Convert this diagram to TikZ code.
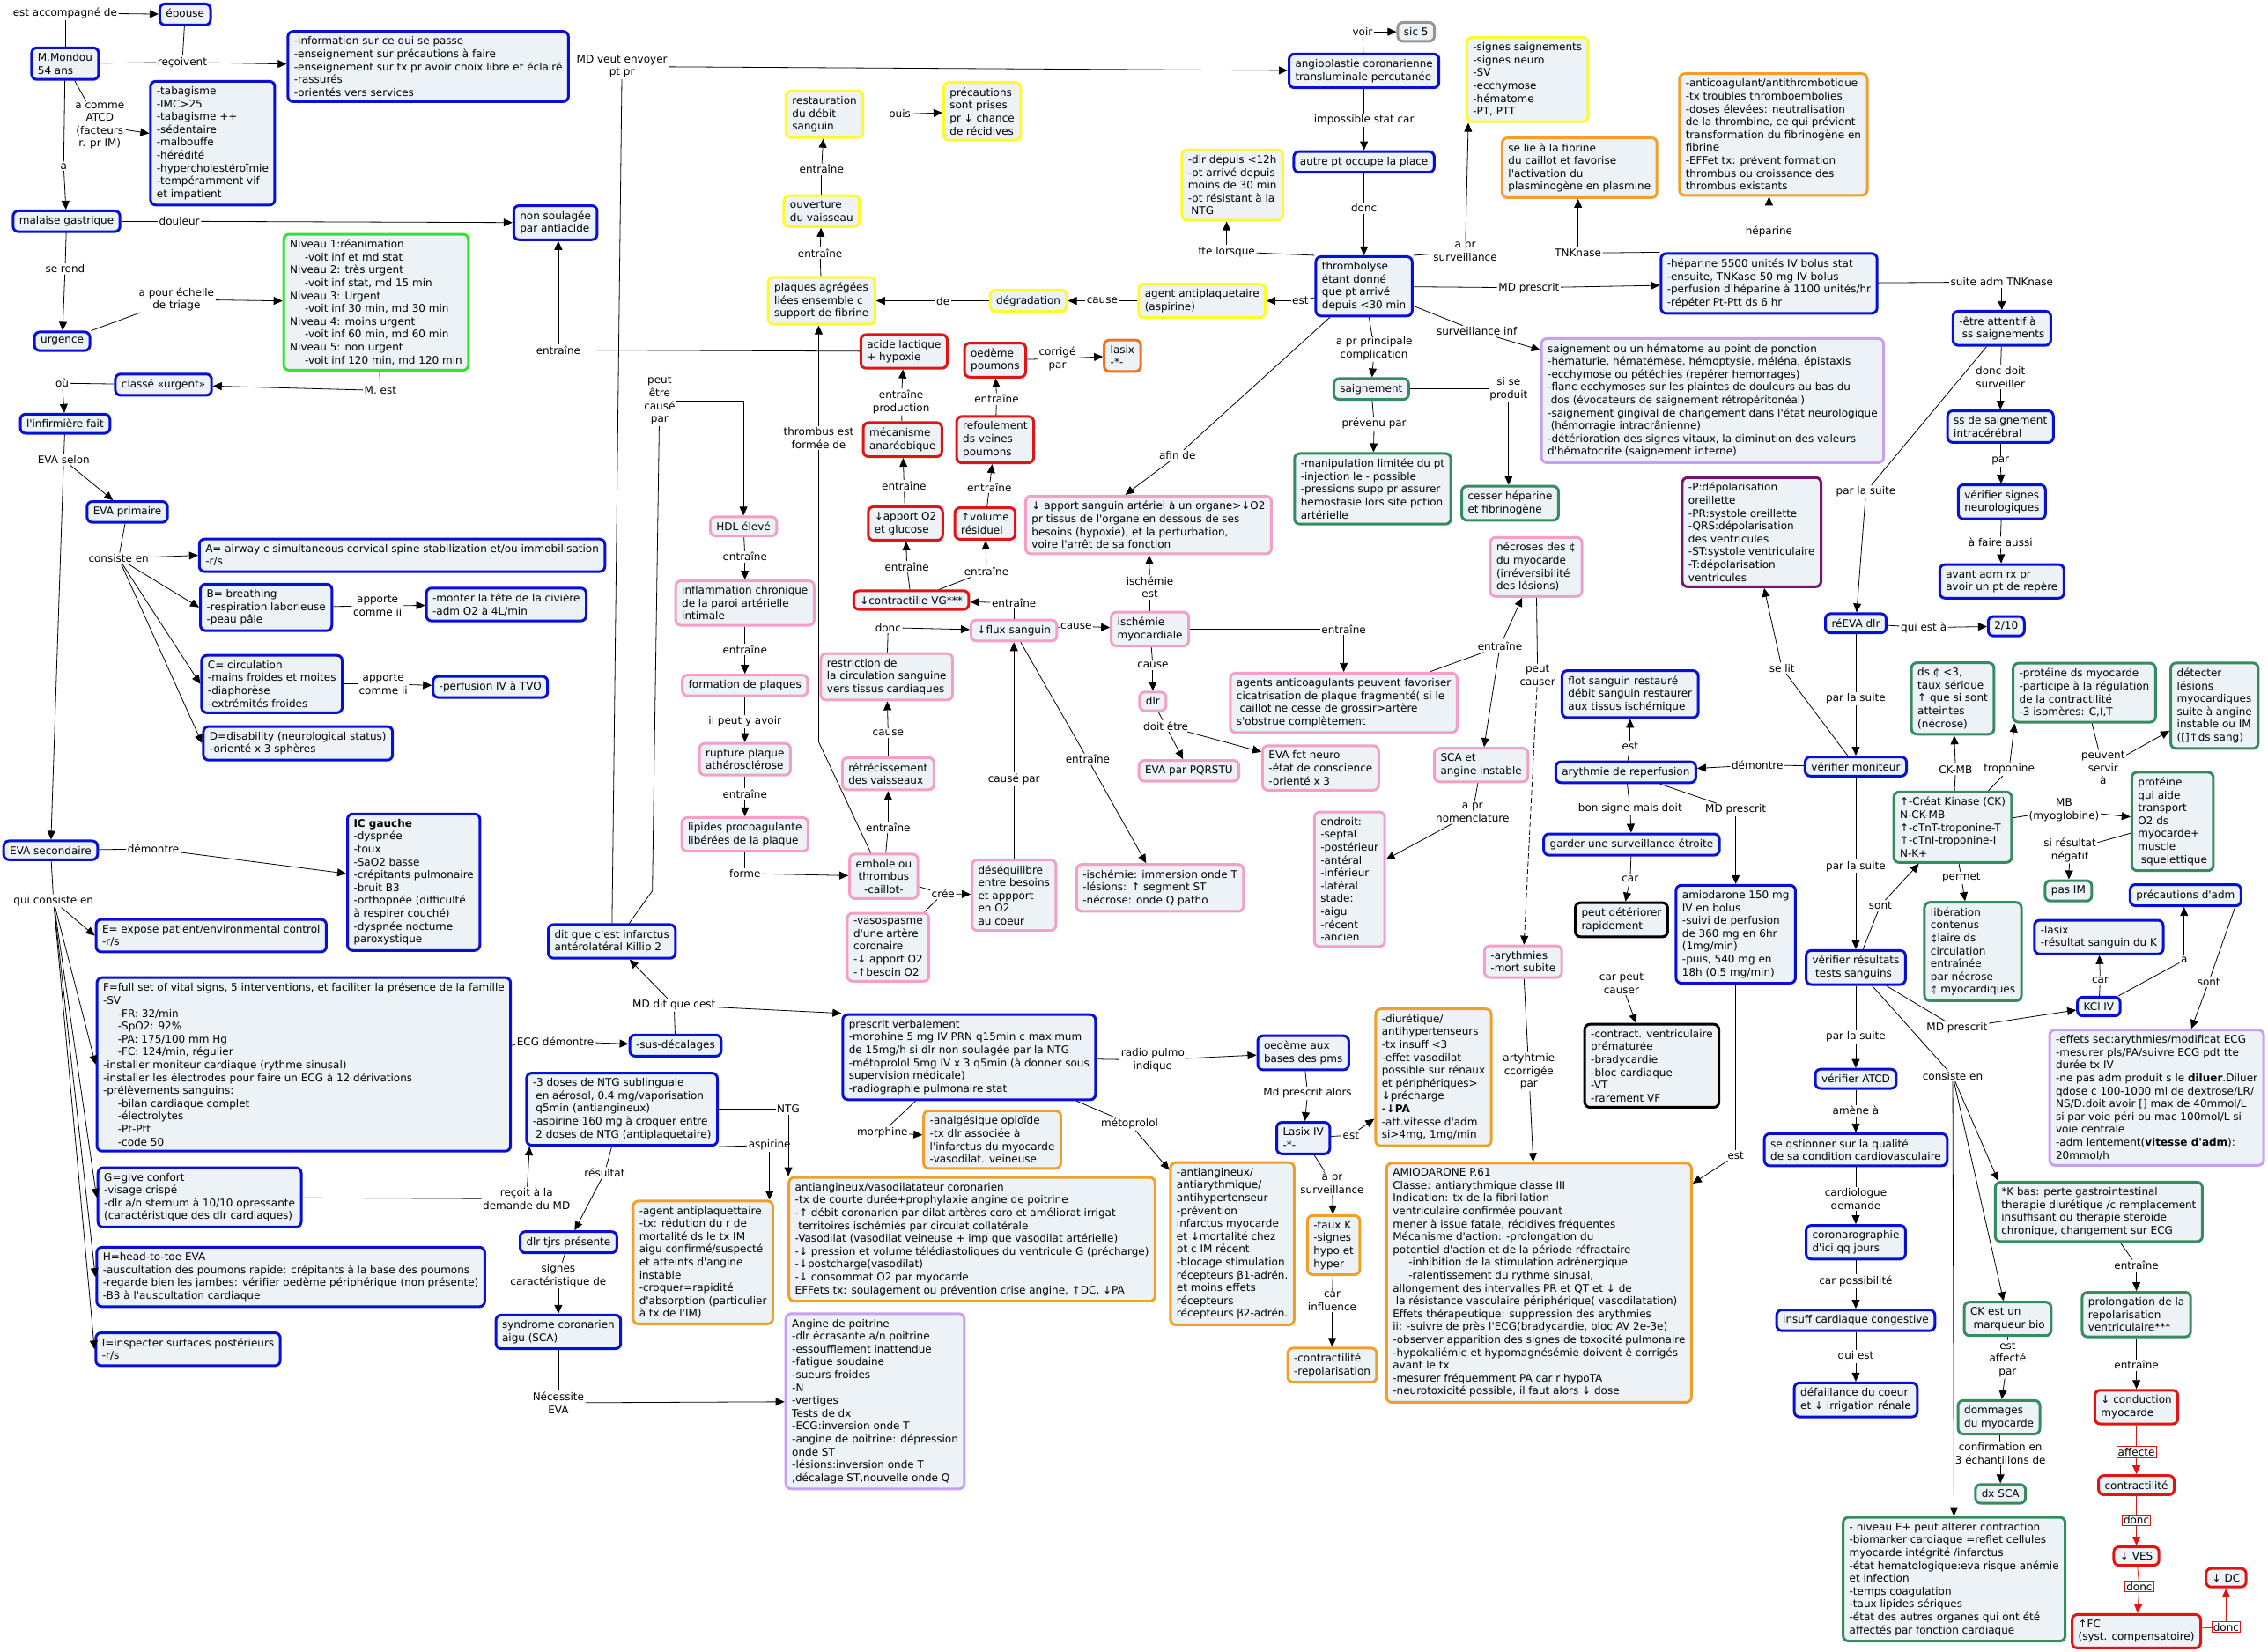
\documentclass[tikz,border=0pt]{standalone}
\usepackage{fontspec}
\setmainfont{DejaVu Sans}[Ligatures=TeXOff]
\usetikzlibrary{arrows.meta,calc}
\definecolor{boxfill}{RGB}{236,242,245}
\definecolor{cblue}{RGB}{8,16,214}
\definecolor{cyellow}{RGB}{255,250,40}
\definecolor{cgreen}{RGB}{50,228,50}
\definecolor{cred}{RGB}{225,20,20}
\definecolor{cpink}{RGB}{242,160,200}
\definecolor{corange}{RGB}{240,160,40}
\definecolor{cdorange}{RGB}{240,115,30}
\definecolor{clpurple}{RGB}{200,160,240}
\definecolor{cdpurple}{RGB}{115,20,110}
\definecolor{cteal}{RGB}{55,140,95}
\definecolor{cgrey}{RGB}{150,150,150}
\newcommand\mapfont{\fontsize{12}{14.6}\selectfont}
\newcommand\mind{\hspace*{1.4em}}
\newcommand\cvia[3]{\draw[ln] (#1) -- (#2); \draw[arr] (#2) -- (#3);}
\begin{document}
\begin{tikzpicture}[x=1.642pt,y=-1.642pt,
 box/.style={rounded corners=6pt,line width=3pt,fill=boxfill,align=left,inner xsep=7pt,inner ysep=6pt,font=\mapfont},
 bl/.style={box,draw=cblue}, yl/.style={box,draw=cyellow}, gn/.style={box,draw=cgreen},
 rd/.style={box,draw=cred}, pk/.style={box,draw=cpink}, og/.style={box,draw=corange},
 dog/.style={box,draw=cdorange}, lp/.style={box,draw=clpurple}, dp/.style={box,draw=cdpurple},
 tl/.style={box,draw=cteal}, gy/.style={box,draw=cgrey}, bk/.style={box,draw=black},
 lbl/.style={fill=white,inner sep=1.5pt,align=center,font=\mapfont},
 rlbl/.style={lbl,draw=cred,line width=0.7pt},
 ln/.style={line width=0.8pt},
 arr/.style={ln,-{Triangle[length=10pt,width=9pt]}},
 rln/.style={ln,draw=cred},
 rarr/.style={arr,draw=cred,fill=cred}]
\fill[white] (0,0) rectangle (1568,1142);
\useasboundingbox (0,0) rectangle (1568,1142);

% ---------------- left column
\node[bl] (mondou) at (45,44) {M.Mondou\\54 ans};
\node[lbl] (Lacc) at (45,9) {est accompagné de};
\node[bl] (epouse) at (128,10) {épouse};
\node[lbl] (Lrec) at (126,43) {reçoivent};
\node[bl] (info) at (296,46) {-information sur ce qui se passe\\-enseignement sur précautions à faire\\-enseignement sur tx pr avoir choix libre et éclairé\\-rassurés\\-orientés vers services};
\node[lbl] (Latcd) at (69,87) {a comme\\ATCD\\(facteurs\\r. pr IM)};
\node[bl] (atcd) at (147,99) {-tabagisme\\-IMC>25\\-tabagisme ++\\-sédentaire\\-malbouffe\\-hérédité\\-hypercholestéroïmie\\-tempéramment vif\\et impatient};
\node[lbl] (La) at (44,115) {a};
\node[bl] (malaise) at (46,153) {malaise gastrique};
\node[lbl] (Ldoul) at (124,153) {douleur};
\node[bl] (nonsoul) at (384,154) {non soulagée\\par antiacide};
\node[lbl] (Lserend) at (45,186) {se rend};
\node[bl] (urgence) at (43,236) {urgence};
\node[lbl] (Ltriage) at (122,207) {a pour échelle\\de triage};
\node[gn] (triage) at (260,209) {Niveau 1:réanimation\\\mind-voit inf et md stat\\Niveau 2: très urgent\\\mind-voit inf stat, md 15 min\\Niveau 3: Urgent\\\mind-voit inf 30 min, md 30 min\\Niveau 4: moins urgent\\\mind-voit inf 60 min, md 60 min\\Niveau 5: non urgent\\\mind-voit inf 120 min, md 120 min};
\node[lbl] (LMest) at (263,270) {M. est};
\node[bl] (classe) at (113,266) {classé «urgent»};
\node[lbl] (Lou) at (43,265) {où};
\node[bl] (infirm) at (45,293) {l'infirmière fait};
\node[lbl] (Levasel) at (44,318) {EVA selon};
\node[bl] (evap) at (88,354) {EVA primaire};
\node[lbl] (Lcons) at (82,386) {consiste en};
\node[bl] (Abox) at (278,384) {A= airway c simultaneous cervical spine stabilization et/ou immobilisation\\-r/s};
\node[bl] (Bbox) at (184,420) {B= breathing\\-respiration laborieuse\\-peau pâle};
\node[lbl] (LappB) at (261,419) {apporte\\comme ii};
\node[bl] (Bact) at (350,418) {-monter la tête de la civière\\-adm O2 à 4L/min};
\node[bl] (Cbox) at (188,473) {C= circulation\\-mains froides et moites\\-diaphorèse\\-extrémités froides};
\node[lbl] (LappC) at (265,473) {apporte\\comme ii};
\node[bl] (Cact) at (339,475) {-perfusion IV à TVO};
\node[bl] (Dbox) at (206,514) {D=disability (neurological status)\\-orienté x 3 sphères};
\node[bl] (evas) at (35,588) {EVA secondaire};
\node[lbl] (Ldem) at (106,587) {démontre};
\node[bl] (icg) at (286,610) {\textbf{IC gauche}\\-dyspnée\\-toux\\-SaO2 basse\\-crépitants pulmonaire\\-bruit B3\\-orthopnée (difficulté\\à respirer couché)\\-dyspnée nocturne\\paroxystique};
\node[lbl] (Lqcons) at (37,623) {qui consiste en};
\node[bl] (Ebox) at (146,647) {E= expose patient/environmental control\\-r/s};
\node[bl] (Fbox) at (210,736) {F=full set of vital signs, 5 interventions, et faciliter la présence de la famille\\-SV\\\mind-FR: 32/min\\\mind-SpO2: 92\%\\\mind-PA: 175/100 mm Hg\\\mind-FC: 124/min, régulier\\-installer moniteur cardiaque (rythme sinusal)\\-installer les électrodes pour faire un ECG à 12 dérivations\\-prélèvements sanguins:\\\mind-bilan cardiaque complet\\\mind-électrolytes\\\mind-Pt-Ptt\\\mind-code 50};
\node[lbl] (LECG) at (384,720) {ECG démontre};
\node[bl] (susdec) at (467,723) {-sus-décalages};
\node[bl] (Gbox) at (138,828) {G=give confort\\-visage crispé\\-dlr a/n sternum à 10/10 opressante\\(caractéristique des dlr cardiaques)};
\node[lbl] (Lrecoit) at (364,829) {reçoit à la\\demande du MD};
\node[bl] (Hbox) at (201,883) {H=head-to-toe EVA\\-auscultation des poumons rapide: crépitants à la base des poumons\\-regarde bien les jambes: vérifier oedème périphérique (non présente)\\-B3 à l'auscultation cardiaque};
\node[bl] (Ibox) at (130,933) {I=inspecter surfaces postérieurs\\-r/s};

% ---------------- middle
\node[lbl] (LMDenv) at (430,46) {MD veut envoyer\\pt pr};
\node[yl] (restau) at (570,79) {restauration\\du débit\\sanguin};
\node[lbl] (Lpuis) at (622,79) {puis};
\node[yl] (precau) at (679,77) {précautions\\sont prises\\pr ↓ chance\\de récidives};
\node[lbl] (Lent1) at (568,117) {entraîne};
\node[yl] (ouvert) at (568,146) {ouverture\\du vaisseau};
\node[lbl] (Lent2) at (567,175) {entraîne};
\node[yl] (plaques) at (568,208) {plaques agrégées\\liées ensemble c\\support de fibrine};
\node[lbl] (Lde) at (652,208) {de};
\node[yl] (degrad) at (711,208) {dégradation};
\node[lbl] (Lcause1) at (762,208) {cause};
\node[yl] (agentap) at (831,208) {agent antiplaquetaire\\(aspirine)};
\node[lbl] (Lest1) at (899,208) {est};
\node[rd] (acide) at (625,243) {acide lactique\\+ hypoxie};
\node[lbl] (Lent3) at (386,242) {entraîne};
\node[rd] (oedeme) at (688,249) {oedème\\poumons};
\node[lbl] (Lcorr) at (731,248) {corrigé\\par};
\node[dog] (lasix) at (776,246) {lasix\\-*-};
\node[lbl] (Lentprod) at (623,278) {entraîne\\production};
\node[rd] (meca) at (624,304) {mécanisme\\anaréobique};
\node[lbl] (Lent4) at (689,276) {entraîne};
\node[rd] (refoul) at (688,304) {refoulement\\ds veines\\poumons};
\node[lbl] (Lent5) at (625,336) {entraîne};
\node[rd] (apportO2) at (626,362) {↓apport O2\\et glucose};
\node[lbl] (Lent6) at (684,337) {entraîne};
\node[rd] (volres) at (681,362) {↑volume\\résiduel};
\node[lbl] (Lent7) at (627,392) {entraîne};
\node[lbl] (Lent8) at (682,395) {entraîne};
\node[rd] (contrVG) at (630,415) {↓contractilie VG***};
\node[lbl] (Lent9) at (701,417) {entraîne};
\node[pk] (flux) at (701,436) {↓flux sanguin};
\node[lbl] (Ldonc1) at (614,434) {donc};
\node[pk] (restric) at (613,468) {restriction de\\la circulation sanguine\\vers tissus cardiaques};
\node[lbl] (Lcause2) at (614,507) {cause};
\node[pk] (retrec) at (614,535) {rétrécissement\\des vaisseaux};
\node[lbl] (Lent10) at (614,572) {entraîne};
\node[pk,align=center] (embole) at (611,606) {embole ou\\thrombus\\-caillot-};
\node[lbl] (Lcree) at (652,618) {crée};
\node[pk] (vaso) at (614,655) {-vasospasme\\d'une artère\\coronaire\\-↓ apport O2\\-↑besoin O2};
\node[pk] (deseq) at (701,619) {déséquilibre\\entre besoins\\et appport\\en O2\\au coeur};
\node[lbl] (Lcausepar) at (701,539) {causé par};
\node[lbl] (Lent11) at (752,525) {entraîne};
\node[pk] (ischbox) at (802,614) {-ischémie: immersion onde T\\-lésions: ↑ segment ST\\-nécrose: onde Q patho};
\node[lbl] (Lthromb) at (566,303) {thrombus est\\formée de};
\node[lbl] (Lpeut) at (456,277) {peut\\être\\causé\\par};
\node[pk] (hdl) at (514,364) {HDL élevé};
\node[lbl] (Lent12) at (515,385) {entraîne};
\node[pk] (inflam) at (515,417) {inflammation chronique\\de la paroi artérielle\\intimale};
\node[lbl] (Lent13) at (515,449) {entraîne};
\node[pk] (formpl) at (515,474) {formation de plaques};
\node[lbl] (Lilpeut) at (515,499) {il peut y avoir};
\node[pk] (rupture) at (515,525) {rupture plaque\\athérosclérose};
\node[lbl] (Lent14) at (515,549) {entraîne};
\node[pk] (lipides) at (515,577) {lipides procoagulante\\libérées de la plaque};
\node[lbl] (Lforme) at (515,604) {forme};
\node[pk] (apportsang) at (794,363) {↓ apport sanguin artériel à un organe>↓O2\\pr tissus de l'organe en dessous de ses\\besoins (hypoxie), et la perturbation,\\voire l'arrêt de sa fonction};
\node[lbl] (Lafin) at (814,315) {afin de};
\node[lbl] (Lischest) at (795,406) {ischémie\\est};
\node[pk] (ischmyo) at (795,435) {ischémie\\myocardiale};
\node[lbl] (Lcause3) at (744,433) {cause};
\node[lbl] (Lcause4) at (797,460) {cause};
\node[pk] (dlr) at (797,485) {dlr};
\node[lbl] (Ldoit) at (806,502) {doit être};
\node[pk] (evapq) at (822,533) {EVA par PQRSTU};
\node[pk] (evafct) at (913,531) {EVA  fct neuro\\-état de conscience\\-orienté x 3};
\node[lbl] (Lent15) at (929,435) {entraîne};
\node[pk] (agents) at (929,486) {agents anticoagulants peuvent favoriser\\cicatrisation de plaque fragmenté( si le\\\hspace*{0.3em}caillot ne cesse de grossir>artère\\s'obstrue complètement};
\node[bl] (dit) at (423,651) {dit que c'est infarctus\\antérolatéral Killip 2};
\node[lbl] (LMDdit) at (466,695) {MD dit que cest};
\node[bl] (prescrit) at (670,731) {prescrit verbalement\\-morphine 5 mg IV PRN q15min c maximum\\de 15mg/h si dlr non soulagée par la NTG\\-métoprolol 5mg IV x 3 q5min (à donner sous\\supervision médicale)\\-radiographie pulmonaire stat};
\node[lbl] (Lradio) at (797,733) {radio pulmo\\indique};
\node[bl] (oedbase) at (901,728) {oedème aux\\bases des pms};
\node[lbl] (LMdpres) at (904,756) {Md prescrit alors};
\node[bl] (lasixiv) at (901,787) {Lasix IV\\-*-};
\node[lbl] (Lest2) at (934,785) {est};
\node[og] (diur) at (991,745) {-diurétique/\\antihypertenseurs\\-tx insuff <3\\-effet vasodilat\\possible sur rénaux\\et périphériques>\\↓précharge\\\textbf{-↓PA}\\-att.vitesse d'adm\\si>4mg, 1mg/min};
\node[lbl] (Lasurv) at (921,818) {à pr\\surveillance};
\node[og] (tauxK) at (922,861) {-taux K\\-signes\\hypo et\\hyper};
\node[lbl] (Lcarinf) at (921,900) {car\\influence};
\node[og] (contrrep) at (921,944) {-contractilité\\-repolarisation};
\node[bl] (ntg) at (430,767) {-3 doses de NTG sublinguale\\\hspace*{0.3em}en aérosol, 0.4 mg/vaporisation\\\hspace*{0.3em}q5min (antiangineux)\\-aspirine 160 mg à croquer entre\\\hspace*{0.3em}2 doses de NTG (antiplaquetaire)};
\node[lbl] (LNTG) at (545,767) {NTG};
\node[lbl] (Lasp) at (532,792) {aspirine};
\node[lbl] (Lresult) at (418,811) {résultat};
\node[bl] (dlrtjrs) at (393,859) {dlr tjrs présente};
\node[lbl] (Lsignes) at (386,882) {signes\\caractéristique de};
\node[bl] (sca) at (386,921) {syndrome coronarien\\aigu (SCA)};
\node[lbl] (Lnecess) at (386,970) {Nécessite\\EVA};
\node[lp] (angine) at (605,969) {Angine de poitrine\\-dlr écrasante a/n poitrine\\-essoufflement inattendue\\-fatigue soudaine\\-sueurs froides\\-N\\-vertiges\\Tests de dx\\-ECG:inversion onde T\\-angine de poitrine: dépression\\onde ST\\-lésions:inversion onde T\\,décalage ST,nouvelle onde Q};
\node[og] (agap2) at (486,873) {-agent antiplaquettaire\\-tx: rédution du r de\\mortalité ds le tx IM\\aigu confirmé/suspecté\\et atteints d'angine\\instable\\-croquer=rapidité\\d'absorption (particulier\\à tx de l'IM)};
\node[og] (antiang) at (672,857) {antiangineux/vasodilatateur coronarien\\-tx de courte durée+prophylaxie angine de poitrine\\-↑ débit coronarien par dilat artères coro et améliorat irrigat\\\hspace*{0.3em}territoires ischémiés par circulat collatérale\\-Vasodilat (vasodilat veineuse + imp que vasodilat artérielle)\\-↓ pression et volume télédiastoliques du ventricule G (précharge)\\-↓postcharge(vasodilat)\\-↓ consommat O2 par myocarde\\EFFets tx: soulagement ou prévention crise angine, ↑DC, ↓PA};
\node[lbl] (Lmorph) at (610,783) {morphine};
\node[og] (analg) at (686,788) {-analgésique opioïde\\-tx dlr associée à\\l'infarctus du myocarde\\-vasodilat. veineuse};
\node[lbl] (Lmetop) at (781,777) {métoprolol};
\node[og] (antiar) at (852,860) {-antiangineux/\\antiarythmique/\\antihypertenseur\\-prévention\\infarctus myocarde\\et ↓mortalité chez\\pt c IM récent\\-blocage stimulation\\récepteurs β1-adrén.\\et moins effets\\récepteurs\\récepteurs β2-adrén.};

% ---------------- upper right
\node[bl] (angio) at (943,49) {angioplastie coronarienne\\transluminale percutanée};
\node[lbl] (Lvoir) at (942,22) {voir};
\node[gy] (sic) at (979,22) {sic 5};
\node[lbl] (Limposs) at (943,83) {impossible stat car};
\node[bl] (autre) at (943,112) {autre pt occupe la place};
\node[lbl] (Ldonc2) at (943,144) {donc};
\node[bl] (thromb) at (943,198) {thrombolyse\\étant donné\\que pt arrivé\\depuis <30 min};
\node[lbl] (Lfte) at (848,174) {fte lorsque};
\node[yl] (dlrdep) at (852,128) {-dlr depuis <12h\\-pt arrivé depuis\\moins de 30 min\\-pt résistant à la\\\hspace*{0.3em}NTG};
\node[yl] (signes) at (1056,55) {-signes saignements\\-signes neuro\\-SV\\-ecchymose\\-hématome\\-PT, PTT};
\node[lbl] (Lapr) at (1013,174) {a pr\\surveillance};
\node[og] (selie) at (1092,116) {se lie à la fibrine\\du caillot et favorise\\l'activation du\\plasminogène en plasmine};
\node[lbl] (LTNK) at (1091,175) {TNKnase};
\node[lbl] (LMDp1) at (1057,199) {MD prescrit};
\node[bl] (hep) at (1223,196) {-héparine 5500 unités IV bolus stat\\-ensuite, TNKase 50 mg IV bolus\\-perfusion d'héparine à 1100 unités/hr\\-répéter Pt-Ptt ds 6 hr};
\node[lbl] (Lhep) at (1223,160) {héparine};
\node[og] (anticoag) at (1226,93) {-anticoagulant/antithrombotique\\-tx troubles thromboembolies\\-doses élevées: neutralisation\\de la thrombine, ce qui prévient\\transformation du fibrinogène en\\fibrine\\-EFFet tx: prévent formation\\thrombus ou croissance des\\thrombus existants};
\node[lbl] (Lsuite) at (1384,195) {suite adm TNKnase};
\node[bl] (attentif) at (1384,227) {-être attentif à\\\hspace*{0.3em}ss saignements};
\node[lbl] (Ldoncdoit) at (1383,261) {donc doit\\surveiller};
\node[bl] (ssaign) at (1383,295) {ss de saignement\\intracérébral};
\node[lbl] (Lpar) at (1383,319) {par};
\node[bl] (verifsig) at (1384,347) {vérifier signes\\neurologiques};
\node[lbl] (Lafaire) at (1383,375) {à faire aussi};
\node[bl] (avant) at (1384,402) {avant adm rx pr\\avoir un pt de repère};
\node[lbl] (Lsurvinf) at (1021,229) {surveillance inf};
\node[lp] (saignpu) at (1184,277) {saignement ou un hématome au point de ponction\\-hématurie, hématémèse, hémoptysie, méléna, épistaxis\\-ecchymose ou pétéchies (repérer hemorrages)\\-flanc ecchymoses sur les plaintes de douleurs au bas du\\\hspace*{0.3em}dos (évocateurs de saignement rétropéritonéal)\\-saignement gingival de changement dans l'état neurologique\\\hspace*{0.3em}(hémorragie intracrânienne)\\-détérioration des signes vitaux, la diminution des valeurs\\d'hématocrite (saignement interne)};
\node[lbl] (Lcompl) at (950,241) {a pr principale\\complication};
\node[tl] (saigngr) at (948,269) {saignement};
\node[lbl] (Lsise) at (1043,269) {si se\\produit};
\node[lbl] (Lprev) at (950,293) {prévenu par};
\node[tl] (manip) at (949,338) {-manipulation limitée du pt\\-injection le - possible\\-pressions supp pr assurer\\hemostasie lors site pction\\artérielle};
\node[tl] (cesser) at (1044,348) {cesser héparine\\et fibrinogène};
\node[pk] (necro) at (1062,392) {nécroses des ¢\\du myocarde\\(irréversibilité\\des lésions)};
\node[lbl] (Lent16) at (1037,447) {entraîne};
\node[lbl] (Lpeutc) at (1063,467) {peut\\causer};
\node[pk] (scaang) at (1024,529) {SCA et\\angine instable};
\node[lbl] (Lnomen) at (1018,562) {a pr\\nomenclature};
\node[pk] (endroit) at (933,608) {endroit:\\-septal\\-postérieur\\-antéral\\-inférieur\\-latéral\\stade:\\-aigu\\-récent\\-ancien};
\node[pk] (aryth) at (1053,665) {-arythmies\\-mort subite};
\node[lbl] (Lartyh) at (1057,741) {artyhtmie\\ccorrigée\\par};
\node[bl] (flot) at (1127,480) {flot sanguin restauré\\débit sanguin restaurer\\aux tissus ischémique};
\node[lbl] (Lest3) at (1127,516) {est};
\node[bl] (arythrep) at (1124,534) {arythmie de reperfusion};
\node[lbl] (Ldem2) at (1215,529) {démontre};
\node[lbl] (Lbon) at (1127,559) {bon signe mais doit};
\node[lbl] (LMDp2) at (1200,560) {MD prescrit};
\node[bl] (garder) at (1128,584) {garder une surveillance étroite};
\node[lbl] (Lcar1) at (1127,608) {car};
\node[bk] (peutdet) at (1121,636) {peut détériorer\\rapidement};
\node[lbl] (Lcarpeut) at (1121,680) {car peut\\causer};
\node[bk] (contrvent) at (1142,737) {-contract. ventriculaire\\prématurée\\-bradycardie\\-bloc cardiaque\\-VT\\-rarement VF};
\node[bl] (amio150) at (1200,646) {amiodarone 150 mg\\IV en bolus\\-suivi de perfusion\\de 360 mg en 6hr\\(1mg/min)\\-puis, 540 mg en\\18h (0.5 mg/min)};
\node[lbl] (Lest4) at (1200,799) {est};
\node[og] (amio) at (1064,887) {AMIODARONE P.61\\Classe: antiarythmique classe III\\Indication: tx de la fibrillation\\ventriculaire confirmée pouvant\\mener à issue fatale, récidives fréquentes\\Mécanisme d'action: -prolongation du\\potentiel d'action et de la période réfractaire\\\hspace*{1.5em}-inhibition de la stimulation adrénergique\\\hspace*{1.5em}-ralentissement du rythme sinusal,\\allongement des intervalles PR et QT et ↓ de\\\hspace*{0.3em}la résistance vasculaire périphérique( vasodilatation)\\Effets thérapeutique: suppression des arythmies\\ii: -suivre de près l'ECG(bradycardie, bloc AV 2e-3e)\\-observer apparition des signes de toxocité pulmonaire\\-hypokaliémie et hypomagnésémie doivent ê corrigés\\avant le tx\\-mesurer fréquemment PA car r hypoTA\\-neurotoxicité possible, il faut alors ↓ dose};
\node[dp] (pdep) at (1211,368) {-P:dépolarisation\\oreillette\\-PR:systole oreillette\\-QRS:dépolarisation\\des ventricules\\-ST:systole ventriculaire\\-T:dépolarisation\\ventricules};
\node[lbl] (Lparsuite1) at (1290,340) {par la suite};
\node[bl] (reeva) at (1283,431) {réEVA dlr};
\node[lbl] (Lquiest) at (1330,434) {qui est à};
\node[bl] (deux) at (1387,433) {2/10};
\node[lbl] (Lselit) at (1232,462) {se lit};
\node[lbl] (Lparsuite2) at (1283,483) {par la suite};
\node[bl] (verifmon) at (1283,530) {vérifier moniteur};
\node[lbl] (Lparsuite3) at (1283,599) {par la suite};
\node[tl] (dscell) at (1350,483) {ds ¢ <3,\\taux sérique\\↑ que si sont\\atteintes\\(nécrose)};
\node[tl] (protmyo) at (1441,479) {-protéine ds myocarde\\-participe à la régulation\\de la contractilité\\-3 isomères: C,I,T};
\node[tl] (detect) at (1531,488) {détecter\\lésions\\myocardiques\\suite à angine\\instable ou IM\\([]↑ds sang)};
\node[lbl] (LCKMB) at (1352,532) {CK-MB};
\node[lbl] (Ltropo) at (1389,532) {troponine};
\node[lbl] (Lpeuvent) at (1454,531) {peuvent\\servir\\à};
\node[tl] (ck) at (1350,572) {↑-Créat Kinase (CK)\\N-CK-MB\\↑-cTnT-troponine-T\\↑-cTnI-troponine-I\\N-K+};
\node[lbl] (LMB) at (1427,560) {MB\\(myoglobine)};
\node[tl] (protaide) at (1502,568) {protéine\\qui aide\\transport\\O2 ds\\myocarde+\\muscle\\\hspace*{0.3em}squelettique};
\node[lbl] (Lsires) at (1431,588) {si résultat\\négatif};
\node[tl] (pasIM) at (1430,616) {pas IM};
\node[lbl] (Lpermet) at (1356,607) {permet};
\node[tl] (liber) at (1364,658) {libération\\contenus\\¢laire ds\\circulation\\entraînée\\par nécrose\\¢ myocardiques};
\node[lbl] (Lsont1) at (1300,626) {sont};
\node[bl] (precadm) at (1511,619) {précautions d'adm};
\node[bl] (lasixK) at (1451,648) {-lasix\\-résultat sanguin du K};
\node[lbl] (Lcar2) at (1452,678) {car};
\node[bl] (kcl) at (1451,696) {KCl IV};
\node[lbl] (La2) at (1510,664) {a};
\node[lbl] (Lsont2) at (1527,679) {sont};
\node[bl] (verifres) at (1283,669) {vérifier résultats\\\hspace*{0.3em}tests sanguins};
\node[lbl] (LMDp3) at (1353,711) {MD prescrit};
\node[lbl] (Lparsuite4) at (1283,717) {par la suite};
\node[lp] (effets) at (1491,759) {-effets sec:arythmies/modificat ECG\\-mesurer pls/PA/suivre ECG pdt tte\\durée tx IV\\-ne pas adm produit s le \textbf{diluer}.Diluer\\qdose c 100-1000 ml de dextrose/LR/\\NS/D.doit avoir [] max de 40mmol/L\\si par voie péri ou mac 100mol/L si\\voie centrale\\-adm lentement(\textbf{vitesse d'adm}):\\20mmol/h};
\node[bl] (verifatcd) at (1283,746) {vérifier ATCD};
\node[lbl] (Lcons2) at (1350,744) {consiste en};
\node[lbl] (Lamene) at (1283,768) {amène à};
\node[bl] (sequest) at (1283,795) {se qstionner sur la qualité\\de sa condition cardiovasculaire};
\node[lbl] (Lcardio) at (1283,829) {cardiologue\\demande};
\node[bl] (corono) at (1283,859) {coronarographie\\d'ici qq jours};
\node[lbl] (Lcarposs) at (1283,886) {car possibilité};
\node[bl] (insuff) at (1283,913) {insuff cardiaque congestive};
\node[lbl] (Lquiest2) at (1283,938) {qui est};
\node[bl] (defaill) at (1283,968) {défaillance du coeur\\et ↓ irrigation rénale};
\node[tl] (kbas) at (1451,838) {*K bas: perte gastrointestinal\\therapie diurétique /c remplacement\\insuffisant ou therapie steroide\\chronique, changement sur ECG};
\node[lbl] (Lent17) at (1477,875) {entraîne};
\node[tl] (prolong) at (1477,909) {prolongation de la\\repolarisation\\ventriculaire***};
\node[lbl] (Lent18) at (1477,944) {entraîne};
\node[rd] (conduc) at (1477,973) {↓ conduction\\myocarde};
\node[rlbl] (Laff) at (1477,1004) {affecte};
\node[rd] (contr2) at (1477,1027) {contractilité};
\node[rlbl] (Ldonc3) at (1477,1051) {donc};
\node[rd] (ves) at (1477,1076) {↓ VES};
\node[rlbl] (Ldonc4) at (1479,1097) {donc};
\node[rd] (fc) at (1477,1128) {↑FC\\(syst. compensatoire)};
\node[rlbl] (Ldonc5) at (1539,1125) {donc};
\node[rd] (dc) at (1539,1091) {↓ DC};
\node[tl] (ckmarq) at (1388,912) {CK est un\\\hspace*{0.3em}marqueur bio};
\node[lbl] (Laffpar) at (1388,940) {est\\affecté\\par};
\node[tl] (dommages) at (1382,980) {dommages\\du myocarde};
\node[lbl] (Lconfirm) at (1383,1005) {confirmation en\\3 échantillons de};
\node[tl] (dxsca) at (1383,1033) {dx SCA};
\node[tl] (nivE) at (1351,1092) {- niveau E+ peut alterer contraction\\-biomarker cardiaque =reflet cellules\\myocarde intégrité /infarctus\\-état hematologique:eva risque anémie\\et infection\\-temps coagulation\\-taux lipides sériques\\-état des autres organes qui ont été\\affectés par fonction cardiaque};

% ================= connectors
% left
\draw[ln] (mondou) -- (Lacc); \draw[arr] (Lacc) -- (epouse);
\draw[ln] (mondou) -- (Lrec); \draw[ln] (epouse) -- (Lrec); \draw[arr] (Lrec) -- (info);
\cvia{mondou}{Latcd}{atcd}
\cvia{mondou}{La}{malaise}
\cvia{malaise}{Ldoul}{nonsoul}
\cvia{malaise}{Lserend}{urgence}
\cvia{urgence}{Ltriage}{triage}
\cvia{triage}{LMest}{classe}
\cvia{classe}{Lou}{infirm}
\draw[ln] (infirm) -- (Levasel); \draw[arr] (Levasel) -- (evap); \draw[arr] (Levasel) -- (evas);
\draw[ln] (evap) -- (Lcons);
\foreach \t in {Abox,Bbox,Cbox,Dbox} \draw[arr] (Lcons) -- (\t.west);
\cvia{Bbox}{LappB}{Bact}
\cvia{Cbox}{LappC}{Cact}
\cvia{evas}{Ldem}{icg}
\draw[ln] (evas) -- (Lqcons);
\foreach \t in {Ebox,Fbox,Gbox,Hbox,Ibox} \draw[arr] (Lqcons) -- (\t.west);
\cvia{Fbox}{LECG}{susdec}
\draw[ln] (susdec) -- (LMDdit); \draw[arr] (LMDdit) -- (dit); \draw[arr] (LMDdit) -- (prescrit.north west);
\draw[ln] (Gbox) -- (Lrecoit); \draw[arr] (Lrecoit) -- ($(ntg.south west)+(3,0)$);

% middle
\draw[ln] (dit) -- (LMDenv); \draw[arr] (LMDenv) -- (angio);
\draw[ln] ($(dit.north)+(12,0)$) -- (451,616) -- (Lpeut); \draw[arr] (Lpeut.east) -| (hdl.north);
\cvia{hdl}{Lent12}{inflam}
\cvia{inflam}{Lent13}{formpl}
\cvia{formpl}{Lilpeut}{rupture}
\cvia{rupture}{Lent14}{lipides}
\cvia{lipides}{Lforme}{embole}
\draw[ln] ($(embole.north)+(-9,0)$) -- (566,513) -- (Lthromb); \draw[arr] (Lthromb) -- (Lthromb |- plaques.south);
\cvia{embole}{Lent10}{retrec}
\cvia{retrec}{Lcause2}{restric}
\cvia{restric}{Ldonc1}{flux}
\draw[ln] (embole) -- (Lcree); \draw[ln] (vaso) -- (Lcree); \draw[arr] (Lcree) -- (deseq);
\cvia{deseq}{Lcausepar}{flux}
\cvia{flux}{Lent9}{contrVG}
\cvia{contrVG}{Lent7}{apportO2}
\cvia{contrVG}{Lent8}{volres}
\cvia{apportO2}{Lent5}{meca}
\cvia{meca}{Lentprod}{acide}
\cvia{volres}{Lent6}{refoul}
\cvia{refoul}{Lent4}{oedeme}
\cvia{oedeme}{Lcorr}{lasix}
\draw[ln] (acide) -- (Lent3); \draw[arr] (Lent3) -- (Lent3 |- nonsoul.south);
\cvia{plaques}{Lent2}{ouvert}
\cvia{ouvert}{Lent1}{restau}
\cvia{restau}{Lpuis}{precau}
\cvia{degrad}{Lde}{plaques}
\cvia{agentap}{Lcause1}{degrad}
\cvia{thromb}{Lest1}{agentap}
\cvia{flux}{Lcause3}{ischmyo}
\cvia{flux}{Lent11}{ischbox}
\cvia{ischmyo}{Lischest}{apportsang}
\draw[ln] (thromb) -- (Lafin); \draw[arr] (Lafin) -- ($(apportsang.north)+(-16,0)$);
\cvia{ischmyo}{Lcause4}{dlr}
\draw[ln] (dlr) -- (Ldoit); \draw[arr] (Ldoit) -- (evapq); \draw[arr] (Ldoit) -- (evafct);
\draw[ln] (ischmyo) -- (Lent15); \draw[arr] (Lent15) -- (Lent15 |- agents.north);
\draw[ln] (agents) -- (Lent16); \draw[arr] (Lent16) -- (necro); \draw[arr] (Lent16) -- (scaang);
\cvia{scaang}{Lnomen}{endroit}
\draw[ln] (necro) -- (Lpeutc); \draw[arr,dash pattern=on 6pt off 3pt] (Lpeutc) -- (aryth);
\cvia{aryth}{Lartyh}{amio}
\draw[ln] (ntg) -- (LNTG); \draw[arr] (LNTG) -- (LNTG |- antiang.north);
\draw[ln] (ntg.south east) -- (Lasp); \draw[arr] (Lasp) -- (Lasp |- agap2.north);
\cvia{ntg}{Lresult}{dlrtjrs}
\cvia{dlrtjrs}{Lsignes}{sca}
\cvia{sca}{Lnecess}{angine}
\cvia{prescrit}{Lradio}{oedbase}
\cvia{oedbase}{LMdpres}{lasixiv}
\cvia{lasixiv}{Lest2}{diur}
\cvia{lasixiv}{Lasurv}{tauxK}
\cvia{tauxK}{Lcarinf}{contrrep}
\draw[ln] ($(prescrit.south)+(-37,0)$) -- (Lmorph); \draw[arr] (Lmorph) -- (analg);
\draw[ln] ($(prescrit.south east)+(-14,0)$) -- (Lmetop); \draw[arr] (Lmetop) -- (antiar);

% upper right
\cvia{angio}{Lvoir}{sic}
\cvia{angio}{Limposs}{autre}
\cvia{autre}{Ldonc2}{thromb}
\draw[ln] (thromb.north west) -- (Lfte); \draw[arr] (Lfte) -- (Lfte |- dlrdep.south);
\draw[ln] (thromb.north east) -- (Lapr); \draw[arr] (Lapr) -- ($(signes.south west)+(2,0)$);
\cvia{thromb}{LMDp1}{hep}
\draw[ln] (hep.north west) -- (LTNK); \draw[arr] (LTNK) -- (LTNK |- selie.south);
\draw[ln] (hep) -- (Lhep); \draw[arr] (Lhep) -- (Lhep |- anticoag.south);
\cvia{hep}{Lsuite}{attentif}
\cvia{attentif}{Ldoncdoit}{ssaign}
\cvia{ssaign}{Lpar}{verifsig}
\cvia{verifsig}{Lafaire}{avant}
\cvia{attentif}{Lparsuite1}{reeva}
\cvia{thromb}{Lsurvinf}{saignpu}
\cvia{thromb}{Lcompl}{saigngr}
\cvia{saigngr}{Lprev}{manip}
\draw[ln] (saigngr) -- (Lsise); \draw[arr] (Lsise) -- (Lsise |- cesser.north);
\cvia{reeva}{Lquiest}{deux}
\cvia{reeva}{Lparsuite2}{verifmon}
\cvia{verifmon}{Lselit}{pdep}
\cvia{verifmon}{Ldem2}{arythrep}
\cvia{arythrep}{Lest3}{flot}
\cvia{arythrep}{Lbon}{garder}
\cvia{garder}{Lcar1}{peutdet}
\cvia{peutdet}{Lcarpeut}{contrvent}
\draw[ln] (arythrep) -- (LMDp2); \draw[arr] (LMDp2) -- (LMDp2 |- amio150.north);
\cvia{amio150}{Lest4}{amio}
\cvia{verifmon}{Lparsuite3}{verifres}
\cvia{verifres}{Lsont1}{ck}
\cvia{ck}{LCKMB}{dscell}
\draw[ln] (ck) -- (Ltropo); \draw[arr] (Ltropo) -- ($(protmyo.south west)+(2,0)$);
\cvia{protmyo}{Lpeuvent}{detect}
\cvia{ck}{LMB}{protaide}
\cvia{protaide}{Lsires}{pasIM}
\cvia{ck}{Lpermet}{liber}
\cvia{verifres}{LMDp3}{kcl}
\cvia{kcl}{Lcar2}{lasixK}
\draw[ln] (kcl) -- (La2); \draw[arr] (La2) -- (La2 |- precadm.south);
\draw[ln] ($(precadm.south east)+(-5,0)$) -- (Lsont2); \draw[arr] (Lsont2) -- ($(effets.north)+(24,0)$);
\cvia{verifres}{Lparsuite4}{verifatcd}
\cvia{verifatcd}{Lamene}{sequest}
\cvia{sequest}{Lcardio}{corono}
\cvia{corono}{Lcarposs}{insuff}
\cvia{insuff}{Lquiest2}{defaill}
\draw[ln] (verifres) -- (Lcons2);
\draw[arr] (Lcons2) -- ($(kbas.north west)+(3,0)$);
\draw[arr] (Lcons2) -- (ckmarq);
\draw[arr] (Lcons2) -- (nivE);
\cvia{kbas}{Lent17}{prolong}
\cvia{prolong}{Lent18}{conduc}
\draw[rln] (conduc) -- (Laff); \draw[rarr] (Laff) -- (contr2);
\draw[rln] (contr2) -- (Ldonc3); \draw[rarr] (Ldonc3) -- (ves);
\draw[rln] (ves) -- (Ldonc4); \draw[rarr] (Ldonc4) -- (fc);
\draw[rln] (fc) -- (Ldonc5); \draw[rarr] (Ldonc5) -- (dc);
\cvia{ckmarq}{Laffpar}{dommages}
\cvia{dommages}{Lconfirm}{dxsca}
\end{tikzpicture}
\end{document}
